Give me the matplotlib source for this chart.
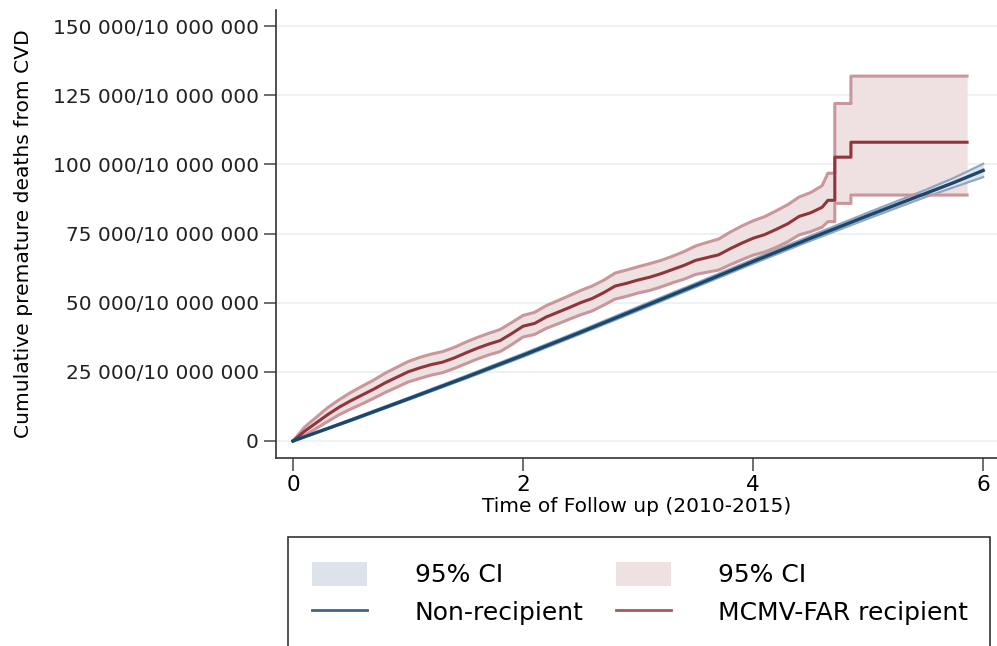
import matplotlib.pyplot as plt
from matplotlib.patches import Rectangle, Patch
from matplotlib.lines import Line2D

# non-recipient (blue)
t_non = [0, 0.5, 1, 1.5, 2, 2.5, 3, 3.5, 4, 4.5, 5, 5.5, 5.75, 6.0]
y_non = [0, 7500, 15200, 23000, 31000, 39300, 47800, 56300, 64900, 73300, 81500, 89500, 93500, 97800]
hi_non = [0, 7800, 15600, 23500, 31600, 39900, 48500, 57000, 65700, 74200, 82600, 90800, 95200, 100200]
lo_non = [0, 7200, 14800, 22500, 30400, 38700, 47100, 55600, 64100, 72400, 80400, 88200, 91800, 95400]

# MCMV-FAR recipient (red); repeated times are the big jumps
t_rec = [0, 0.1, 0.2, 0.3, 0.4, 0.5, 0.6, 0.7, 0.8, 0.9, 1.0, 1.1, 1.2, 1.3, 1.4, 1.5,
         1.6, 1.7, 1.8, 1.9, 2.0, 2.1, 2.2, 2.3, 2.4, 2.5, 2.6, 2.7, 2.8, 2.9, 3.0, 3.1,
         3.2, 3.3, 3.4, 3.5, 3.6, 3.7, 3.8, 3.9, 4.0, 4.1, 4.2, 4.3, 4.4, 4.5, 4.6, 4.65,
         4.71, 4.71, 4.85, 4.85, 5.86]
y_rec = [0, 3500, 6500, 9500, 12200, 14500, 16600, 18700, 21000, 23000, 25000, 26400,
         27600, 28500, 30000, 31800, 33500, 35000, 36300, 38800, 41500, 42500, 44800,
         46500, 48200, 50000, 51500, 53600, 56000, 57000, 58200, 59200, 60500, 62000,
         63500, 65300, 66300, 67300, 69500, 71500, 73300, 74600, 76500, 78500, 81200,
         82500, 84500, 87000, 87000, 102600, 102600, 108000, 108000]
hi_rec = [0, 5000, 8500, 12000, 14900, 17500, 19800, 22000, 24500, 26600, 28700, 30200,
          31400, 32300, 33800, 35700, 37400, 38900, 40300, 42800, 45400, 46500, 48900,
          50700, 52500, 54400, 56000, 58100, 60700, 61800, 63000, 64100, 65300, 66800,
          68500, 70500, 71800, 73000, 75500, 77700, 79600, 81100, 83200, 85400, 88200,
          89800, 92300, 96800, 96800, 122000, 122000, 131900, 131900]
lo_rec = [0, 2000, 4500, 7000, 9500, 11500, 13400, 15400, 17500, 19400, 21300, 22600,
          23800, 24700, 26200, 27900, 29600, 31100, 32300, 34800, 37600, 38500, 40700,
          42300, 44000, 45600, 47000, 49100, 51300, 52300, 53500, 54400, 55700, 57200,
          58500, 60200, 61000, 61800, 63700, 65500, 67200, 68300, 70000, 72000, 74500,
          75700, 77300, 79300, 79300, 85900, 85900, 88900, 88900]

yticks = [0, 25000, 50000, 75000, 100000, 125000, 150000]
ytick_labels = ["0", "25 000/10 000 000", "50 000/10 000 000", "75 000/10 000 000",
                "100 000/10 000 000", "125 000/10 000 000", "150 000/10 000 000"]
xticks = [0, 2, 4, 6]

navy = "#1a476f"
maroon = "#90353b"
navy_ci = "#dde3ea"
maroon_ci = "#efe0e1"

fig = plt.figure(figsize=(9.97, 6.46), dpi=100)
ax = fig.add_axes([276 / 997, 188 / 646, 721 / 997, 448 / 646])

# CI bands
ax.fill_between(t_non, lo_non, hi_non, color=navy_ci, lw=0, zorder=2)
ax.plot(t_non, hi_non, color="#8fa8bf", lw=1.6, zorder=3)
ax.plot(t_non, lo_non, color="#8fa8bf", lw=1.6, zorder=3)

ax.fill_between(t_rec, lo_rec, hi_rec, color=maroon_ci, lw=0, zorder=2)
ax.plot(t_rec, hi_rec, color="#c9979b", lw=2.2, zorder=3)
ax.plot(t_rec, lo_rec, color="#c9979b", lw=2.2, zorder=3)

ax.plot(t_non, y_non, color=navy, lw=2.4, zorder=5)
ax.plot(t_rec, y_rec, color=maroon, lw=2.2, zorder=4)

ax.set_xlim(-0.148, 6.12)
ax.set_ylim(-6150, 155800)
ax.set_yticks(yticks)
ax.set_yticklabels(ytick_labels, fontsize=14.5, color="#222222")
ax.set_xticks(xticks)
ax.set_xticklabels([str(x) for x in xticks], fontsize=15.5)
ax.tick_params(axis="both", length=9, width=1.2, color="#555555")
ax.grid(axis="y", color="#eaf0f3", lw=1.3, zorder=0)
ax.set_axisbelow(True)
for s in ["top", "right"]:
    ax.spines[s].set_visible(False)
for s in ["left", "bottom"]:
    ax.spines[s].set_color("#333333")
    ax.spines[s].set_linewidth(1.2)

ax.set_xlabel("Time of Follow up (2010-2015)", fontsize=14.5, labelpad=1)
ax.set_ylabel("Cumulative premature deaths from CVD", fontsize=14.6, labelpad=14)

# legend box, cut off at the bottom like the source
fig.patches.append(Rectangle((288 / 997, -0.1), 702 / 997, 0.1 + 109 / 646,
                             transform=fig.transFigure, fill=False,
                             edgecolor="#333333", lw=1.2))
handles = [Patch(facecolor=navy_ci, edgecolor="none"),
           Line2D([], [], color="#3f6488", lw=2),
           Patch(facecolor=maroon_ci, edgecolor="none"),
           Line2D([], [], color="#a5585d", lw=2)]
labels = ["95% CI", "Non-recipient", "95% CI", "MCMV-FAR recipient"]
fig.legend(handles, labels, loc="upper left", bbox_to_anchor=(312 / 997, 1 - 562 / 646),
           ncol=2, frameon=False, fontsize=18, handlelength=2.2, handleheight=1.08,
           handletextpad=1.9, columnspacing=1.3, labelspacing=0.48,
           borderpad=0, borderaxespad=0)

fig.savefig("out.png", dpi=100)
